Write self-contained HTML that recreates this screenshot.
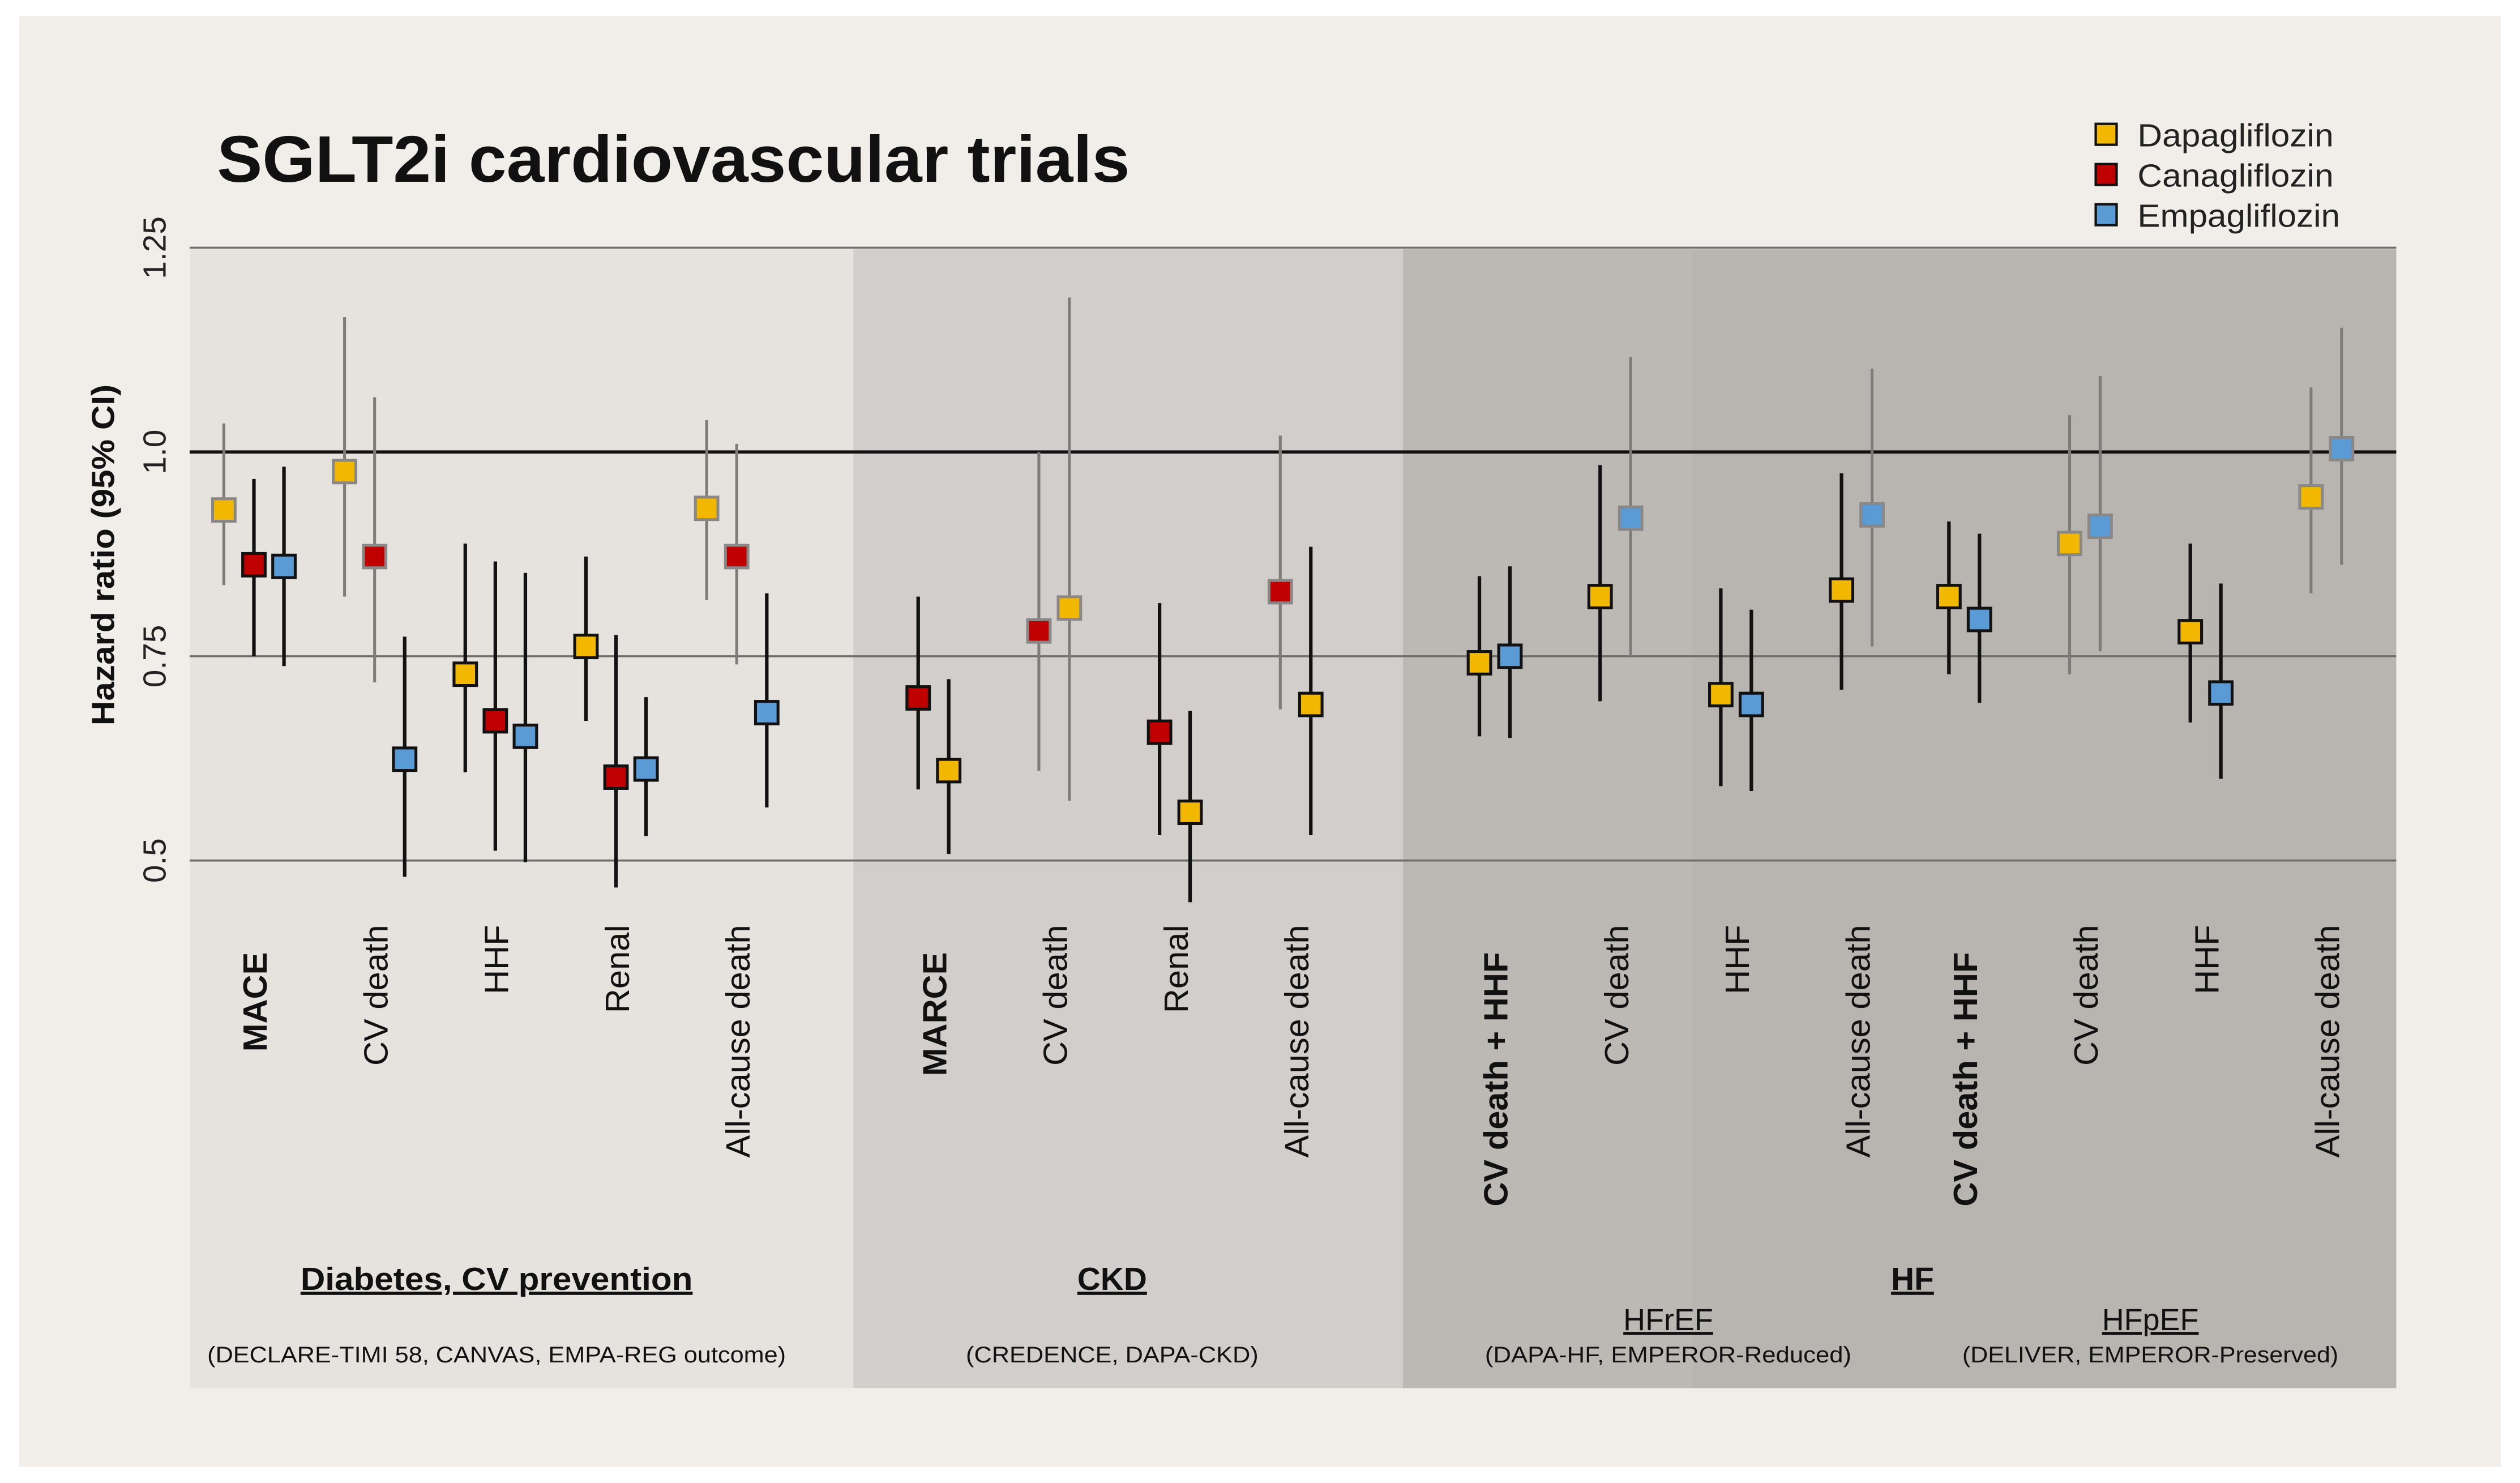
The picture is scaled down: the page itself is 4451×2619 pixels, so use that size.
<!DOCTYPE html>
<html><head><meta charset="utf-8"><style>
html,body{margin:0;padding:0;background:#fff;}
svg{display:block;font-family:"Liberation Sans",Arial,sans-serif;}
</style></head><body>
<svg id="chart" width="4451" height="2619" viewBox="0 0 1568 922" preserveAspectRatio="none" xmlns="http://www.w3.org/2000/svg">
<rect x="0" y="0" width="1568" height="922" fill="#ffffff"/>
<rect x="12" y="10" width="1544" height="902" fill="#f1eee9"/>
<rect x="118" y="155" width="413" height="708" fill="#e6e3df"/>
<rect x="531" y="155" width="342" height="708" fill="#d1cecb"/>
<rect x="873" y="155" width="618" height="708" fill="#b8b5b1"/>
<rect x="873" y="155" width="180" height="708" fill="#bcb9b5"/>
<text x="135" y="113" font-size="41" font-weight="bold" fill="#111" textLength="568" lengthAdjust="spacingAndGlyphs">SGLT2i cardiovascular trials</text>
<g id="grid"></g>
<g id="marks"></g>
<g id="labels"></g>
<text transform="translate(71,345) rotate(-90)" text-anchor="middle" font-size="20" font-weight="bold" fill="#111" textLength="212" lengthAdjust="spacingAndGlyphs">Hazard ratio (95% CI)</text>
<g>
<rect x="1304" y="77" width="13" height="13" fill="#f2b800" stroke="#111" stroke-width="1.5"/>
<text x="1330" y="91" font-size="20" fill="#222" textLength="122" lengthAdjust="spacingAndGlyphs">Dapagliflozin</text>
<rect x="1304" y="102" width="13" height="13" fill="#c00000" stroke="#111" stroke-width="1.5"/>
<text x="1330" y="116" font-size="20" fill="#222" textLength="122" lengthAdjust="spacingAndGlyphs">Canagliflozin</text>
<rect x="1304" y="127" width="13" height="13" fill="#5b9bd5" stroke="#111" stroke-width="1.5"/>
<text x="1330" y="141" font-size="20" fill="#222" textLength="126" lengthAdjust="spacingAndGlyphs">Empagliflozin</text>
</g>
<g font-size="20" fill="#111" text-anchor="middle">
<text x="309" y="802" font-weight="bold" text-decoration="underline" textLength="244" lengthAdjust="spacingAndGlyphs">Diabetes, CV prevention</text>
<text x="309" y="847" font-size="14" textLength="360" lengthAdjust="spacingAndGlyphs">(DECLARE-TIMI 58, CANVAS, EMPA-REG outcome)</text>
<text x="692" y="802" font-weight="bold" text-decoration="underline">CKD</text>
<text x="692" y="847" font-size="14" textLength="182" lengthAdjust="spacingAndGlyphs">(CREDENCE, DAPA-CKD)</text>
<text x="1190" y="802" font-weight="bold" text-decoration="underline">HF</text>
<text x="1038" y="827" font-size="19" text-decoration="underline">HFrEF</text>
<text x="1038" y="847" font-size="14" textLength="228" lengthAdjust="spacingAndGlyphs">(DAPA-HF, EMPEROR-Reduced)</text>
<text x="1338" y="827" font-size="19" text-decoration="underline">HFpEF</text>
<text x="1338" y="847" font-size="14" textLength="234" lengthAdjust="spacingAndGlyphs">(DELIVER, EMPEROR-Preserved)</text>
</g>
</svg>
<script>
const NS="http://www.w3.org/2000/svg";
const yTicks=[1.25,1.0,0.75,0.5];
const yTickLabels=["1.25","1.0","0.75","0.5"];
const categories=["MACE","CV death","HHF","Renal","All-cause death","MARCE","CV death","Renal","All-cause death","CV death + HHF","CV death","HHF","All-cause death","CV death + HHF","CV death","HHF","All-cause death"];
const categoryBold=[1,0,0,0,0,1,0,0,0,1,0,0,0,1,0,0,0];
const categorySlot=[0,1,2,3,4,5.63,6.63,7.63,8.63,10.28,11.28,12.28,13.28,14.17,15.17,16.17,17.17];
const pointCategory=[0,0,0,1,1,1,2,2,2,3,3,3,4,4,4,5,5,6,6,7,7,8,8,9,9,10,10,11,11,12,12,13,13,14,14,15,15,16,16];
const pointDrug=["D","C","E","D","C","E","D","C","E","D","C","E","D","C","E","C","D","C","D","C","D","C","D","D","E","D","E","D","E","D","E","D","E","D","E","D","E","D","E"];
const hrValues=[0.929,0.862,0.86,0.976,0.872,0.624,0.728,0.671,0.652,0.762,0.602,0.612,0.931,0.872,0.681,0.699,0.61,0.781,0.809,0.657,0.559,0.829,0.691,0.742,0.75,0.823,0.919,0.703,0.691,0.831,0.923,0.823,0.795,0.888,0.909,0.78,0.705,0.945,1.004];
const lowerValues=[0.837,0.75,0.738,0.823,0.718,0.48,0.608,0.512,0.498,0.671,0.467,0.53,0.819,0.74,0.565,0.587,0.508,0.61,0.573,0.531,0.449,0.685,0.531,0.652,0.65,0.695,0.75,0.591,0.585,0.709,0.762,0.728,0.693,0.728,0.756,0.669,0.6,0.827,0.862];
const upperValues=[1.035,0.967,0.982,1.165,1.067,0.774,0.888,0.866,0.852,0.872,0.776,0.70,1.039,1.01,0.827,0.823,0.722,1.0,1.189,0.815,0.683,1.02,0.884,0.848,0.86,0.984,1.116,0.833,0.807,0.974,1.102,0.915,0.9,1.045,1.093,0.888,0.839,1.079,1.152];
const significant=[0,1,1,0,0,1,1,1,1,1,1,1,0,0,1,1,1,0,0,1,1,0,1,1,1,1,0,1,1,1,0,1,1,0,0,1,1,0,0];
const drugColor={D:"#f2b800",C:"#c00000",E:"#5b9bd5"};
function y(v){return 281-(v-1)*508;}
function xCat(i){return 158+75.1*categorySlot[i];}
const grid=document.getElementById('grid');
yTicks.forEach((t,i)=>{
  const l=document.createElementNS(NS,'line');
  
  
  l.setAttribute('x1',118);l.setAttribute('x2',1491);
  l.setAttribute('y1',y(t));l.setAttribute('y2',y(t));
  l.setAttribute('stroke',t===1?'#111':'#6f6d6a');
  l.setAttribute('stroke-width',t===1?2:1.3);
  grid.appendChild(l);
  const tx=document.createElementNS(NS,'text');
  
  
  tx.setAttribute('transform','translate(103,'+y(t)+') rotate(-90)');
  tx.setAttribute('text-anchor','middle');
  tx.setAttribute('font-size','20');tx.setAttribute('fill','#222');
  tx.textContent=yTickLabels[i];
  grid.appendChild(tx);
});
const labels=document.getElementById('labels');
categories.forEach((c,i)=>{
  const tx=document.createElementNS(NS,'text');
  
  
  const top=categoryBold[i]?592:575;
  tx.setAttribute('transform','translate('+(xCat(i)+8)+','+top+') rotate(-90)');
  tx.setAttribute('text-anchor','end');
  tx.setAttribute('font-size','21');tx.setAttribute('fill','#111');
  if(categoryBold[i])tx.setAttribute('font-weight','bold');
  tx.textContent=c;
  labels.appendChild(tx);
});
const marks=document.getElementById('marks');
const counts={};pointCategory.forEach(c=>counts[c]=(counts[c]||0)+1);
const seen={};
hrValues.forEach((v,i)=>{
  const c=pointCategory[i];const k=seen[c]||0;seen[c]=k+1;
  const n=counts[c];
  const off=n===3?(k-1)*18.7:(k-0.5)*19;
  const x=xCat(c)+off;
  const sig=significant[i];
  const ln=document.createElementNS(NS,'line');
  
  
  ln.setAttribute('x1',x);ln.setAttribute('x2',x);
  ln.setAttribute('y1',y(upperValues[i]));ln.setAttribute('y2',y(lowerValues[i]));
  ln.setAttribute('stroke',sig?'#111':'#7e7c79');
  ln.setAttribute('stroke-width',sig?2.2:1.8);
  marks.appendChild(ln);
  const r=document.createElementNS(NS,'rect');
  
  
  r.setAttribute('x',x-7);r.setAttribute('y',y(v)-7);
  r.setAttribute('width',14);r.setAttribute('height',14);
  r.setAttribute('fill',drugColor[pointDrug[i]]);
  r.setAttribute('stroke',sig?'#111':'#8a8886');
  r.setAttribute('stroke-width',1.8);
  marks.appendChild(r);
});
</script>
</body></html>
